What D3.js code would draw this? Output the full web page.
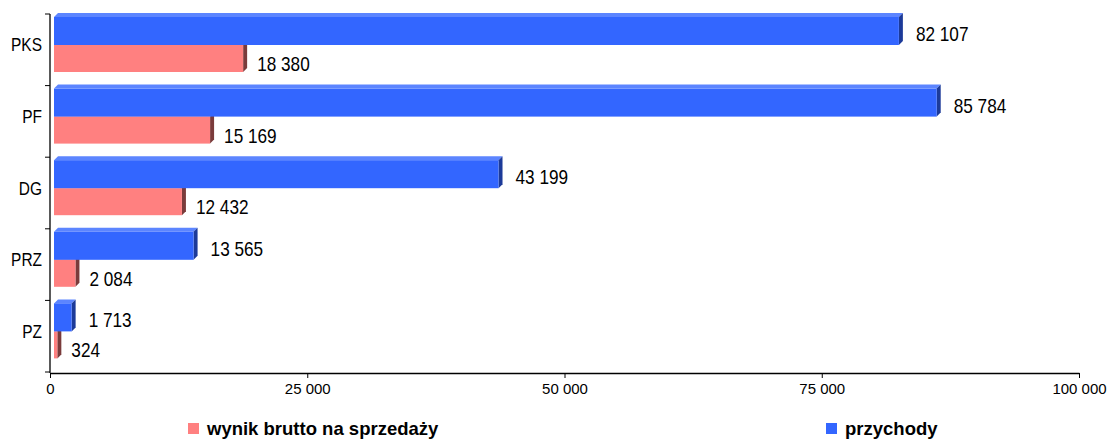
<!DOCTYPE html>
<html>
<head>
    <meta charset="utf-8">
    <script src="https://d3js.org/d3.v7.min.js"></script>
    <style>
        body { margin: 0; background: #fff; }
        text { font-family: "Liberation Sans", Arial, sans-serif; }
    </style>
</head>
<body>
<script>
    var categories = ["PKS", "PF", "DG", "PRZ", "PZ"];
    var przychody = [82107, 85784, 43199, 13565, 1713];
    var wynik = [18380, 15169, 12432, 2084, 324];
    var xTicks = [0, 25000, 50000, 75000, 100000];
    var seriesNames = ["wynik brutto na sprzedaży", "przychody"];

    var width = 1109, height = 439;
    var depth = 4;
    var squeeze = 0.86; // narrow look of the original labels

    var svg = d3.select("body").append("svg")
        .attr("width", width)
        .attr("height", height);

    var x = d3.scaleLinear().domain([0, 100000]).range([50, 1079]);
    var y = d3.scaleBand().domain(categories).range([14, 372]);

    var fmt = function (v) {
        return d3.format(",")(v).replace(/,/g, " ");
    };

    // axes
    var xAxis = svg.append("g")
        .attr("transform", "translate(0,373)")
        .call(d3.axisBottom(x).tickValues(xTicks).tickSize(5).tickSizeOuter(0).tickFormat(fmt));
    xAxis.attr("font-size", 15).attr("font-family", "Liberation Sans, Arial, sans-serif");
    xAxis.select(".domain").attr("stroke", "#000").attr("stroke-width", 1.3);
    xAxis.selectAll("line").attr("stroke", "#000");
    xAxis.selectAll(".tick text")
        .attr("font-size", 15)
        .attr("fill", "#000")
        .attr("y", 10)
        .attr("dy", "0.71em");

    var yAxisG = svg.append("g");
    yAxisG.append("line")
        .attr("x1", 50).attr("x2", 50)
        .attr("y1", 14).attr("y2", 373)
        .attr("stroke", "#000").attr("stroke-width", 1.3);
    var bounds = categories.map(function (c) { return y(c); }).concat([y.range()[1]]);
    yAxisG.selectAll("line.tick")
        .data(bounds)
        .enter().append("line")
        .attr("class", "tick")
        .attr("x1", 45).attr("x2", 50)
        .attr("y1", function (d) { return d; })
        .attr("y2", function (d) { return d; })
        .attr("stroke", "#000");
    yAxisG.selectAll("text")
        .data(categories)
        .enter().append("text")
        .attr("transform", function (d) {
            return "translate(42," + (y(d) + 31) + ") scale(" + squeeze + ",1)";
        })
        .attr("dy", "0.35em")
        .attr("text-anchor", "end")
        .attr("font-size", 18)
        .text(function (d) { return d; });

    // 3D-ish bar
    function bar(g, x0, x1, y0, h, front, top, side) {
        g.append("path")
            .attr("d", "M" + x0 + "," + y0 + "L" + (x0 + depth) + "," + (y0 - depth) +
                "L" + (x1 + depth) + "," + (y0 - depth) + "L" + x1 + "," + y0 + "Z")
            .attr("fill", top);
        g.append("path")
            .attr("d", "M" + x1 + "," + y0 + "L" + (x1 + depth) + "," + (y0 - depth) +
                "L" + (x1 + depth) + "," + (y0 + h - depth) + "L" + x1 + "," + (y0 + h) + "Z")
            .attr("fill", side);
        g.append("rect")
            .attr("x", x0).attr("y", y0)
            .attr("width", Math.max(0, x1 - x0)).attr("height", h)
            .attr("fill", front);
    }

    var bars = svg.append("g");
    var off = 4;
    categories.forEach(function (c, i) {
        var top = y(c);
        // red first (behind), then blue on top
        bar(bars, x(0) + off, x(wynik[i]) + off, top + 31, 27, "#ff8080", "#ff9f9f", "#7a3b3b");
        bar(bars, x(0) + off, x(przychody[i]) + off, top + 3, 28, "#3366ff", "#5c85ff", "#1c3a99");
    });

    // value labels
    var labels = svg.append("g").attr("font-size", 20).attr("fill", "#000");
    function valueLabel(px, py, v) {
        labels.append("text")
            .attr("transform", "translate(" + px + "," + py + ") scale(" + squeeze + ",1)")
            .attr("dy", "0.35em")
            .text(fmt(v));
    }
    categories.forEach(function (c, i) {
        valueLabel(x(przychody[i]) + off + 17, y(c) + 20, przychody[i]);
        valueLabel(x(wynik[i]) + off + 14, y(c) + 50, wynik[i]);
    });

    // legend
    var legendData = [
        { name: seriesNames[0], color: "#ff8080", x: 188 },
        { name: seriesNames[1], color: "#3366ff", x: 826 }
    ];
    var leg = svg.append("g");
    legendData.forEach(function (d) {
        leg.append("rect")
            .attr("x", d.x).attr("y", 423)
            .attr("width", 11).attr("height", 11)
            .attr("fill", d.color);
        leg.append("text")
            .attr("x", d.x + 19).attr("y", 435)
            .attr("font-size", 18.5).attr("font-weight", "bold")
            .text(d.name);
    });
</script>
</body>
</html>
